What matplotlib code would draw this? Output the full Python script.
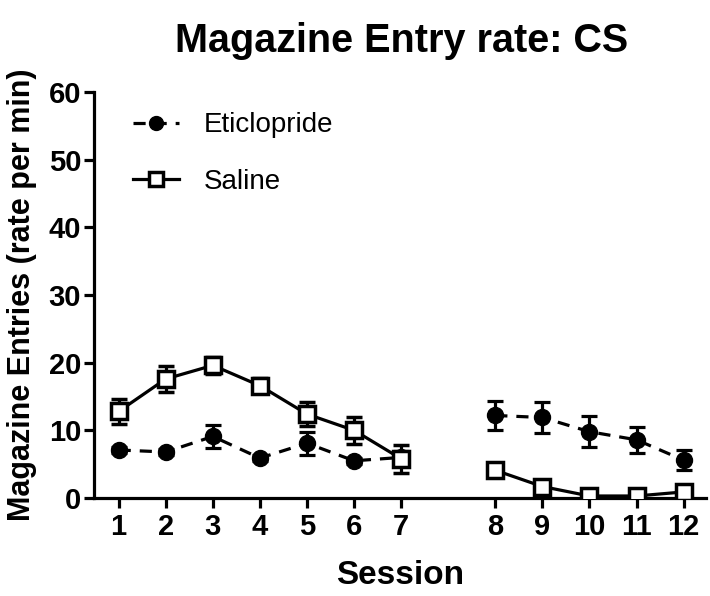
import matplotlib
matplotlib.use('Agg')
import matplotlib.pyplot as plt

# Sessions (plot positions leave a gap between session 7 and 8)
sessions = [1, 2, 3, 4, 5, 6, 7, 8, 9, 10, 11, 12]
positions = [1, 2, 3, 4, 5, 6, 7, 9, 10, 11, 12, 13]

etic_mean = [7.1, 6.8, 9.1, 5.9, 8.1, 5.5, 6.0, 12.2, 11.9, 9.8, 8.6, 5.6]
etic_sem = [0.5, 0.4, 1.7, 0.4, 1.7, 0.4, 1.0, 2.2, 2.3, 2.3, 1.9, 1.5]

sal_mean = [12.8, 17.6, 19.6, 16.6, 12.4, 10.0, 5.8, 4.1, 1.7, 0.3, 0.3, 0.9]
sal_sem = [1.9, 1.9, 1.2, 1.1, 1.8, 2.0, 2.1, 0.8, 0.6, 0.4, 0.4, 0.5]

plt.rcParams['font.family'] = ['Liberation Sans', 'DejaVu Sans']

fig = plt.figure(figsize=(7.1, 5.96), dpi=100)
ax = fig.add_axes([0.132, 0.1644, 0.862, 0.6812])

lw = 2.3
dash = (0, (3.8, 2.8))
segments = [slice(0, 7), slice(7, 12)]

# Eticlopride (dashed, filled circles)
for s in segments:
    ax.errorbar(positions[s], etic_mean[s], yerr=etic_sem[s], color='black',
                linestyle=dash, linewidth=lw, marker='o', markersize=11.5,
                markerfacecolor='black', capsize=6, capthick=lw, elinewidth=lw,
                zorder=2)

# Saline (solid, open squares)
for s in segments:
    ax.errorbar(positions[s], sal_mean[s], yerr=sal_sem[s], color='black',
                linestyle='-', linewidth=lw, marker='s', markersize=11.5,
                markerfacecolor='white', markeredgewidth=2.5, markeredgecolor='black',
                capsize=6, capthick=lw, elinewidth=lw, zorder=3)

# legend handles
h1 = plt.Line2D([], [], color='black', linestyle=dash, linewidth=lw,
                marker='o', markersize=10)
h2 = plt.Line2D([], [], color='black', linestyle='-', linewidth=lw, marker='s',
                markersize=10, markerfacecolor='white', markeredgewidth=2.5)
ax.legend([h1, h2], ['Eticlopride', 'Saline'], loc='upper left',
          bbox_to_anchor=(0.064, 0.95), frameon=False, fontsize=20,
          handlelength=1.65, handletextpad=0.9, labelspacing=1.1,
          borderpad=0, borderaxespad=0)

ax.set_xlim(0.47, 13.47)
ax.set_ylim(0, 60)
ax.set_xticks(positions)
ax.set_xticklabels([str(s) for s in sessions])
ax.set_yticks([0, 10, 20, 30, 40, 50, 60])

for side in ['top', 'right']:
    ax.spines[side].set_visible(False)
for side in ['left', 'bottom']:
    ax.spines[side].set_linewidth(lw)

ax.tick_params(axis='both', direction='out', length=7, width=lw,
               labelsize=21)
for lab in ax.get_xticklabels() + ax.get_yticklabels():
    lab.set_fontweight('bold')
ax.tick_params(axis='x', pad=4)
ax.tick_params(axis='y', pad=2)

ax.set_xlabel('Session', fontsize=24, fontweight='bold')
ax.xaxis.set_label_coords(0.5, -0.152)
ax.set_ylabel('Magazine Entries (rate per min)', fontsize=22, fontweight='bold')
ax.yaxis.set_label_coords(-0.092, 0.5)
fig.text(0.565, 0.932, 'Magazine Entry rate: CS', ha='center', va='center',
         fontsize=28.5, fontweight='bold')

fig.savefig('out.png', dpi=100)
plt.close('all')
